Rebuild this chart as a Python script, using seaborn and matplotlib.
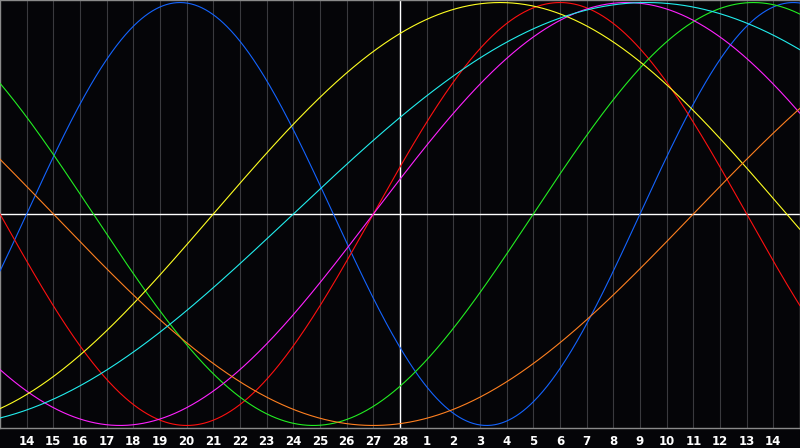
"""
Biorhythm chart: seven sine cycles over one month, dark display style.
"""

import matplotlib
matplotlib.use("Agg")
import matplotlib.pyplot as plt
import numpy as np
import pandas as pd
import seaborn as sns

# Day labels along the bottom (13 Feb .. 14 Mar), one per grid column
DAY_LABELS = ["14", "15", "16", "17", "18", "19", "20", "21", "22", "23",
              "24", "25", "26", "27", "28", "1", "2", "3", "4", "5", "6",
              "7", "8", "9", "10", "11", "12", "13", "14"]
TODAY_INDEX = 14  # "28", white vertical marker

# Cycles: period (days) and the day index where each
# curve crosses zero going up
CYCLES = ["physical", "emotional", "intellectual", "intuitive",
          "aesthetic", "awareness", "spiritual"]
PERIODS = [23, 28, 33, 38, 43, 48, 53]
RISING_ZERO_DAY = [0, 13, 19, 13, 7, 25, 10]
COLORS = ["#1464ff", "#ff1010", "#22ee22", "#ff22ff",
          "#ffff22", "#ff8020", "#22eeee"]

BG = "#050508"

sns.set_theme(style="dark")
plt.rcParams["font.family"] = ["DejaVu Sans"]

days = np.linspace(-1, len(DAY_LABELS), 900)
frames = []
for name, period, zero_day in zip(CYCLES, PERIODS, RISING_ZERO_DAY):
    frames.append(pd.DataFrame({
        "day": days,
        "value": np.sin(2 * np.pi * (days - zero_day) / period),
        "cycle": name,
    }))
df = pd.concat(frames, ignore_index=True)

fig = plt.figure(figsize=(8.0, 4.48), dpi=100, facecolor=BG)
ax = fig.add_axes([0.0, 20 / 448, 1.0, 428 / 448])
ax.set_facecolor(BG)

# day grid
for i in range(len(DAY_LABELS)):
    ax.axvline(i, color="#3a3a3e", linewidth=0.8, zorder=1)

sns.lineplot(data=df, x="day", y="value", hue="cycle", hue_order=CYCLES,
             palette=COLORS, linewidth=0.8, legend=False, ax=ax, zorder=3)

ax.axhline(0, color="white", linewidth=1.0, zorder=2)
ax.axvline(TODAY_INDEX, color="white", linewidth=1.0, zorder=2)

ax.set_xlim(-1, len(DAY_LABELS))
ax.set_ylim(-1.012, 1.012)
ax.set_xticks(range(len(DAY_LABELS)))
ax.set_xticklabels(DAY_LABELS, color="white", fontsize=8.5, fontweight="bold")
ax.set_yticks([])
ax.tick_params(axis="x", length=0, pad=5)
ax.set_xlabel("")
ax.set_ylabel("")
ax.grid(False)
for spine in ax.spines.values():
    spine.set_visible(True)
    spine.set_color("#8a8a8a")
    spine.set_linewidth(1.0)

fig.savefig("out.png", dpi=100, facecolor=BG)
plt.close(fig)
